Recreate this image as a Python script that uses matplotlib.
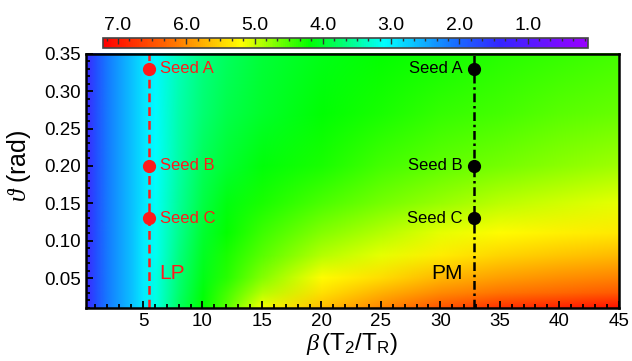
import numpy as np
import matplotlib
matplotlib.use("Agg")
from matplotlib import pyplot as plt
from matplotlib.colors import LinearSegmentedColormap, Normalize
from matplotlib.image import NonUniformImage
from matplotlib.ticker import MultipleLocator

plt.rcParams['font.family'] = ['Liberation Sans', 'DejaVu Sans']
plt.rcParams['mathtext.fontset'] = 'custom'
plt.rcParams['mathtext.rm'] = 'Liberation Sans'
plt.rcParams['mathtext.it'] = 'Liberation Serif:italic'
plt.rcParams['mathtext.sf'] = 'Liberation Sans'

# grid
beta = [0, 1, 2, 3, 4, 5, 6, 8, 10, 12, 15, 20, 25, 30, 35, 40, 45]
theta = [0.01, 0.03, 0.05, 0.08, 0.11, 0.15, 0.20, 0.27, 0.35]
z_001 = [1.2, 1.8, 2.15, 2.4, 2.65, 2.95, 3.2, 3.8, 4.2, 4.55, 5.15, 5.65, 6.05, 6.45, 6.75, 6.9, 7.05]
z_003 = [1.2, 1.8, 2.15, 2.4, 2.65, 2.95, 3.2, 3.75, 4.15, 4.45, 4.9, 5.4, 5.75, 6.0, 6.18, 6.3, 6.4]
z_005 = [1.2, 1.8, 2.15, 2.4, 2.65, 2.95, 3.2, 3.7, 4.1, 4.35, 4.72, 5.2, 5.42, 5.7, 5.88, 5.98, 6.08]
z_008 = [1.2, 1.8, 2.15, 2.4, 2.65, 2.95, 3.15, 3.65, 4.05, 4.3, 4.55, 4.9, 5.1, 5.32, 5.5, 5.6, 5.68]
z_011 = [1.2, 1.8, 2.15, 2.4, 2.65, 2.95, 3.15, 3.6, 3.98, 4.22, 4.42, 4.7, 4.9, 5.1, 5.22, 5.3, 5.35]
z_015 = [1.2, 1.8, 2.15, 2.4, 2.65, 2.92, 3.12, 3.55, 3.9, 4.12, 4.3, 4.5, 4.65, 4.8, 4.92, 5.02, 5.1]
z_020 = [1.2, 1.8, 2.15, 2.4, 2.65, 2.92, 3.1, 3.5, 3.82, 4.0, 4.15, 4.3, 4.45, 4.56, 4.66, 4.75, 4.83]
z_027 = [1.2, 1.8, 2.15, 2.4, 2.65, 2.9, 3.07, 3.45, 3.72, 3.88, 4.02, 4.18, 4.3, 4.4, 4.47, 4.53, 4.6]
z_035 = [1.2, 1.8, 2.15, 2.4, 2.65, 2.9, 3.05, 3.4, 3.65, 3.8, 3.95, 4.1, 4.2, 4.28, 4.35, 4.4, 4.45]

seed_theta = [0.33, 0.20, 0.13]
seed_names = ['Seed A', 'Seed B', 'Seed C']
beta_lp = 5.5
beta_pm = 32.8

cb_ticks = [7.0, 6.0, 5.0, 4.0, 3.0, 2.0, 1.0]
vmin, vmax = 0.12, 7.22

# colour anchors (value, colour)
anchors = [(0.12, (0.6, 0.0, 1.0)), (1.4, (0.2, 0.15, 1.0)), (2.0, (0.1, 0.4, 1.0)),
           (3.1, (0.0, 1.0, 1.0)), (4.2, (0.0, 1.0, 0.0)), (5.2, (1.0, 1.0, 0.0)),
           (6.2, (1.0, 0.45, 0.0)), (7.22, (1.0, 0.0, 0.0))]
cmap = LinearSegmentedColormap.from_list(
    'ramp', [((v - vmin) / (vmax - vmin), c) for v, c in anchors])

def main():
    Z = np.array([z_001, z_003, z_005, z_008, z_011, z_015, z_020, z_027, z_035])

    fig = plt.figure(figsize=(6.32, 3.61), dpi=100)
    ax = fig.add_axes([0.136, 0.147, 0.843, 0.704])
    cax = fig.add_axes([0.163, 0.867, 0.767, 0.028])

    im = NonUniformImage(ax, interpolation='bilinear', cmap=cmap,
                         norm=Normalize(vmin, vmax),
                         extent=(0.2, 45, 0.01, 0.35))
    im.set_data(np.array(beta, float), np.array(theta), Z)
    ax.add_image(im)

    red = '#ff1a1a'
    ax.axvline(beta_lp, color=red, lw=1.8, dashes=(3.5, 2))
    ax.axvline(beta_pm, color='black', lw=1.8, dashes=(3.5, 1.5, 1, 1.5))
    ax.plot([beta_lp] * 3, seed_theta, 'o', color=red, ms=8.5)
    ax.plot([beta_pm] * 3, seed_theta, 'o', color='black', ms=8.5)
    for name, th in zip(seed_names, seed_theta):
        ax.text(beta_lp + 0.9, th, name, color=red, fontsize=12, va='center')
        ax.text(beta_pm - 0.9, th, name, color='black', fontsize=12,
                va='center', ha='right')
    ax.text(beta_lp + 0.9, 0.056, 'LP', color=red, fontsize=15, va='center')
    ax.text(beta_pm - 0.9, 0.056, 'PM', color='black', fontsize=15,
            va='center', ha='right')

    ax.set_xlim(0.2, 45)
    ax.set_ylim(0.01, 0.35)
    ax.set_xticks([5, 10, 15, 20, 25, 30, 35, 40, 45])
    ax.set_yticks([0.05, 0.10, 0.15, 0.20, 0.25, 0.30, 0.35])
    ax.set_yticklabels(['%.2f' % t for t in [0.05, 0.10, 0.15, 0.20, 0.25, 0.30, 0.35]])
    ax.xaxis.set_minor_locator(MultipleLocator(1))
    ax.yaxis.set_minor_locator(MultipleLocator(0.01))
    ax.tick_params(which='both', direction='in', top=False, right=False,
                   labelsize=13.5, width=1.3)
    ax.tick_params(which='major', length=5)
    ax.tick_params(which='minor', length=3)
    for s in ax.spines.values():
        s.set_linewidth(1.8)
    ax.set_xlabel(r'$\beta\,(\mathrm{T_2/T_R})$', fontsize=17.5, labelpad=1)
    ax.set_ylabel(r'$\vartheta$ (rad)', fontsize=18)
    ax.yaxis.set_label_coords(-0.1, 0.56)

    cb = fig.colorbar(im, cax=cax, orientation='horizontal')
    cax.invert_xaxis()
    cb.set_ticks(cb_ticks)
    cb.set_ticklabels(['%.1f' % t for t in cb_ticks])
    cax.xaxis.set_minor_locator(MultipleLocator(1 / 6))
    cax.tick_params(which='both', direction='in', top=True, bottom=False,
                    labeltop=True, labelbottom=False, labelsize=14,
                    width=1.0, color='#333333', pad=3)
    cax.tick_params(which='major', length=4)
    cax.tick_params(which='minor', length=2)
    cb.outline.set_linewidth(1.2)
    cb.outline.set_edgecolor('#444444')

    fig.savefig('out.png', dpi=100)

if __name__ == '__main__':
    main()
